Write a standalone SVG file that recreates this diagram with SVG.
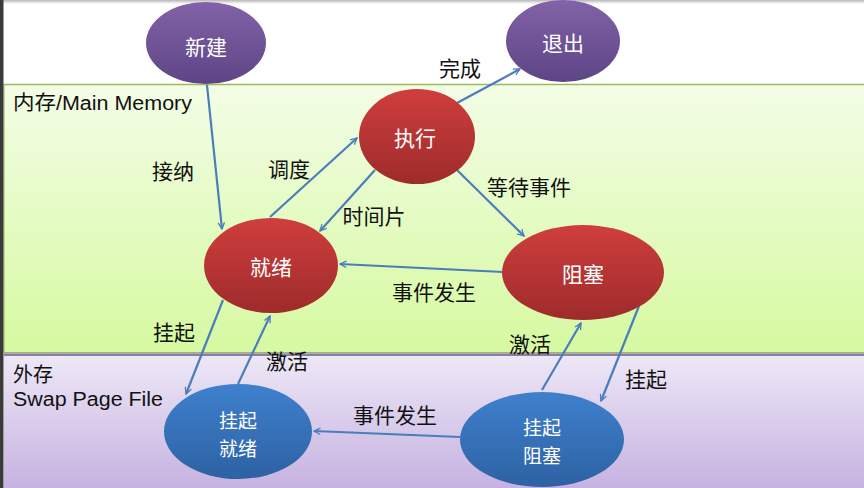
<svg xmlns="http://www.w3.org/2000/svg" width="864" height="488" viewBox="0 0 864 488">
<defs>
<linearGradient id="gGreen" x1="0" y1="0" x2="0" y2="1"><stop offset="0" stop-color="#f3fde6"/><stop offset="1" stop-color="#d6f9a0"/></linearGradient>
<linearGradient id="gPurpleBg" x1="0" y1="0" x2="0" y2="1"><stop offset="0" stop-color="#eee8f7"/><stop offset="1" stop-color="#c6b2e0"/></linearGradient>
<linearGradient id="gTop" x1="0" y1="0" x2="0" y2="1"><stop offset="0" stop-color="#b8b8b8"/><stop offset="1" stop-color="#ffffff"/></linearGradient>
<linearGradient id="gPur" x1="0" y1="0" x2="0" y2="1"><stop offset="0" stop-color="#8262a8"/><stop offset="1" stop-color="#5d4585"/></linearGradient>
<linearGradient id="gRed" x1="0" y1="0" x2="0" y2="1"><stop offset="0" stop-color="#cf3e3d"/><stop offset="1" stop-color="#9e2b2b"/></linearGradient>
<linearGradient id="gBlue" x1="0" y1="0" x2="0" y2="1"><stop offset="0" stop-color="#3f80cd"/><stop offset="1" stop-color="#2d62a3"/></linearGradient>
<marker id="arr" viewBox="0 0 10 10" refX="9" refY="5" markerWidth="8" markerHeight="8" markerUnits="userSpaceOnUse" orient="auto"><path d="M1,1 L9,5 L1,9" fill="none" stroke="#4a7ebb" stroke-width="1.6"/></marker>
</defs>
<style>
.node-t{font-family:"Noto Sans CJK SC","Liberation Sans",sans-serif;font-size:21px;fill:#ffffff;text-anchor:middle;dominant-baseline:central}
.node-t2{font-family:"Noto Sans CJK SC","Liberation Sans",sans-serif;font-size:19px;fill:#ffffff;text-anchor:middle;dominant-baseline:central}
.lbl{font-family:"Noto Sans CJK SC","Liberation Sans",sans-serif;font-size:21px;fill:#111111;text-anchor:middle;dominant-baseline:central}
.reg{font-family:"Liberation Sans","Noto Sans CJK SC",sans-serif;font-size:20px;fill:#111111}
.edge{fill:none;stroke:#4a7ebb;stroke-width:2.2;marker-end:url(#arr)}
</style>
<rect x="0" y="0" width="864" height="488" fill="#ffffff"/>
<rect x="0" y="0" width="864" height="4" fill="url(#gTop)"/>
<rect x="4" y="84" width="860" height="269" fill="url(#gGreen)"/>
<line x1="4" y1="84.5" x2="864" y2="84.5" stroke="#9bbb59" stroke-width="1.5"/>
<line x1="4" y1="353" x2="864" y2="353" stroke="#8d9a7a" stroke-width="1.5"/>
<rect x="4" y="354" width="860" height="134" fill="url(#gPurpleBg)"/>
<line x1="4" y1="355" x2="864" y2="355" stroke="#6d5a95" stroke-width="1.5"/>
<line x1="4" y1="84" x2="4" y2="353" stroke="#9bbb59" stroke-width="1"/>
<rect x="0" y="0" width="3.5" height="488" fill="#3a3a3a"/>
<text class="reg" x="13" y="110" textLength="179" lengthAdjust="spacingAndGlyphs">内存/Main Memory</text>
<text class="reg" x="13" y="382">外存</text>
<text class="reg" x="13" y="406" textLength="150" lengthAdjust="spacingAndGlyphs">Swap Page File</text>
<g id="edges">
<line class="edge" x1="207" y1="85" x2="222" y2="229"/>
<line class="edge" x1="270" y1="217" x2="357" y2="138"/>
<line class="edge" x1="375" y1="170" x2="320" y2="231"/>
<line class="edge" x1="457" y1="103" x2="520" y2="69"/>
<line class="edge" x1="457" y1="170" x2="524" y2="236"/>
<line class="edge" x1="503" y1="272" x2="340" y2="264"/>
<line class="edge" x1="223" y1="300" x2="186" y2="394"/>
<line class="edge" x1="238" y1="384" x2="270" y2="316"/>
<line class="edge" x1="542" y1="390" x2="581" y2="323"/>
<line class="edge" x1="639" y1="306" x2="601" y2="401"/>
<line class="edge" x1="460" y1="437" x2="314" y2="431"/>
</g>
<g id="n-new"><ellipse cx="206" cy="43" rx="60" ry="41" fill="url(#gPur)"/><text class="node-t" x="206" y="46">新建</text></g>
<g id="n-exit"><ellipse cx="563" cy="41" rx="57" ry="41" fill="url(#gPur)"/><text class="node-t" x="563" y="42">退出</text></g>
<g id="n-run"><ellipse cx="417" cy="136.5" rx="58" ry="47.5" fill="url(#gRed)"/><text class="node-t" x="415" y="137">执行</text></g>
<g id="n-ready"><ellipse cx="271" cy="265.5" rx="67" ry="47.5" fill="url(#gRed)"/><text class="node-t" x="271" y="266">就绪</text></g>
<g id="n-block"><ellipse cx="583" cy="272.5" rx="81" ry="47.5" fill="url(#gRed)"/><text class="node-t" x="583" y="273">阻塞</text></g>
<g id="n-sready"><ellipse cx="238" cy="431.5" rx="74" ry="47.5" fill="url(#gBlue)"/><text class="node-t2" x="238" y="419">挂起</text><text class="node-t2" x="238" y="447">就绪</text></g>
<g id="n-sblock"><ellipse cx="542" cy="439.5" rx="82" ry="47.5" fill="url(#gBlue)"/><text class="node-t2" x="542" y="426">挂起</text><text class="node-t2" x="542" y="454">阻塞</text></g>
<g id="labels">
<text class="lbl" x="173" y="170">接纳</text>
<text class="lbl" x="289" y="168">调度</text>
<text class="lbl" x="374" y="215">时间片</text>
<text class="lbl" x="460" y="67">完成</text>
<text class="lbl" x="529" y="186">等待事件</text>
<text class="lbl" x="434" y="291">事件发生</text>
<text class="lbl" x="174" y="331">挂起</text>
<text class="lbl" x="287" y="360">激活</text>
<text class="lbl" x="530" y="343">激活</text>
<text class="lbl" x="646" y="378">挂起</text>
<text class="lbl" x="395" y="414">事件发生</text>
</g>
</svg>
